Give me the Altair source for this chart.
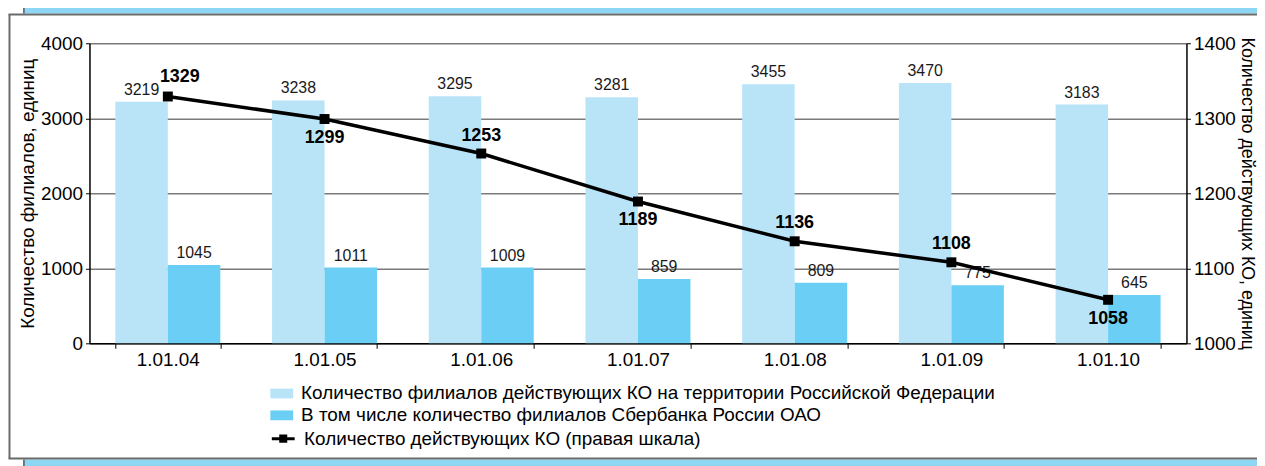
import altair as alt
import pandas as pd

dates = ["1.01.04", "1.01.05", "1.01.06", "1.01.07", "1.01.08", "1.01.09", "1.01.10"]
branches_total = [3219, 3238, 3295, 3281, 3455, 3470, 3183]
branches_sber = [1045, 1011, 1009, 859, 809, 775, 645]
credit_orgs = [1329, 1299, 1253, 1189, 1136, 1108, 1058]

series_total = "Количество филиалов действующих КО на территории Российской Федерации"
series_sber = "В том числе количество филиалов Сбербанка России ОАО"
series_ko = "Количество действующих КО (правая шкала)"
left_title = "Количество филиалов, единиц"
right_title = "Количество действующих КО, единиц"

left_ticks = [0, 1000, 2000, 3000, 4000]
right_ticks = [1000, 1100, 1200, 1300, 1400]

# label placement groups for the line values
labels_above = ["1.01.06", "1.01.08", "1.01.09"]
labels_below = ["1.01.05", "1.01.07", "1.01.10"]
labels_above_right = ["1.01.04"]

FONT = "Liberation Sans"
PLOT_W, PLOT_H = 1104, 302
PAD = {"left": 82, "top": 34, "right": 71, "bottom": 122}

bars_df = pd.DataFrame({
    "date": dates * 2,
    "series": [series_total] * len(dates) + [series_sber] * len(dates),
    "value": branches_total + branches_sber,
})
line_df = pd.DataFrame({"date": dates, "ko": credit_orgs, "series": [series_ko] * len(dates)})
one_row = pd.DataFrame({"k": [0]})

x_enc = alt.X(
    "date:N", sort=dates,
    scale=alt.Scale(paddingInner=0.33, paddingOuter=0.165),
    axis=alt.Axis(title=None, labelAngle=0, tickBand="extent", labelFontSize=19,
                  labelPadding=2, tickSize=5, domainColor="black", tickColor="black",
                  labelColor="black", domainWidth=1.5),
)

y_left = alt.Y(
    "value:Q", scale=alt.Scale(domain=[0, 4000]),
    axis=alt.Axis(values=left_ticks, format="d", title=left_title, grid=True,
                  gridColor="#7a7a7a", gridWidth=1.5, tickSize=4, labelFontSize=19,
                  labelPadding=3, titleFontSize=19, titleFontWeight="normal",
                  titlePadding=3, domainColor="black", tickColor="black",
                  labelColor="black", titleColor="black", domainWidth=1.5),
)

y_right = alt.Y(
    "ko:Q", scale=alt.Scale(domain=[1000, 1400]),
    axis=alt.Axis(orient="right", values=right_ticks, format="d", title=right_title,
                  grid=False, tickSize=4, labelFontSize=19, labelPadding=3,
                  titleFontSize=18, titleFontWeight="normal", titlePadding=2,
                  titleAngle=90, domainColor="black", tickColor="black",
                  labelColor="black", titleColor="black", domainWidth=1.5),
)

# decorative page frame: grey-bordered white box, blue bands above and below
FRAME = "#6a6a6a"
BAND = "#8DD7F5"
frame_left = alt.Chart(one_row).mark_rule(color=FRAME, strokeWidth=2).encode(
    x=alt.value(-80.5), y=alt.value(-29), y2=alt.value(418))
frame_top = alt.Chart(one_row).mark_rule(color=FRAME, strokeWidth=2).encode(
    x=alt.value(-81.5), x2=alt.value(1200), y=alt.value(-29))
frame_bottom = alt.Chart(one_row).mark_rule(color=FRAME, strokeWidth=2).encode(
    x=alt.value(-81.5), x2=alt.value(1200), y=alt.value(418))
band_top = alt.Chart(one_row).mark_rect(fill=BAND).encode(
    x=alt.value(-66), x2=alt.value(1200), y=alt.value(-45), y2=alt.value(-30))
band_bottom = alt.Chart(one_row).mark_rect(fill=BAND).encode(
    x=alt.value(-66), x2=alt.value(1200), y=alt.value(419), y2=alt.value(440))
band_top_edge = alt.Chart(one_row).mark_rule(color="#555555", strokeWidth=1.5).encode(
    x=alt.value(-66), y=alt.value(-45), y2=alt.value(-30))
band_bottom_edge = alt.Chart(one_row).mark_rule(color="#555555", strokeWidth=1.5).encode(
    x=alt.value(-66), y=alt.value(419), y2=alt.value(440))
frame = alt.layer(band_top, band_bottom, band_top_edge, band_bottom_edge,
                  frame_left, frame_top, frame_bottom)

bars = alt.Chart(bars_df).mark_bar().encode(
    x=x_enc,
    xOffset=alt.XOffset("series:N", sort=[series_total, series_sber], scale=alt.Scale(paddingInner=0, paddingOuter=0)),
    y=y_left,
    color=alt.Color(
        "series:N",
        scale=alt.Scale(domain=[series_total, series_sber], range=["#B9E4F8", "#6BCFF5"]),
        legend=alt.Legend(title=None, orient="none", legendX=182, legendY=341,
                          symbolType="M-1,-0.43H1V0.43H-1Z", symbolSize=529,
                          symbolStrokeWidth=0, labelFontSize=19, labelOffset=8,
                          rowPadding=0, padding=0, labelColor="black", labelLimit=900),
    ),
)
bar_labels = alt.Chart(bars_df).mark_text(fontSize=16, baseline="middle", dy=-12, color="#1a1a1a").encode(
    x=x_enc,
    xOffset=alt.XOffset("series:N", sort=[series_total, series_sber]),
    y=y_left,
    text="value:Q",
)
left = alt.layer(bars, bar_labels)

line = alt.Chart(line_df).mark_line(strokeWidth=3.5).encode(
    x=x_enc, y=y_right,
    stroke=alt.Stroke(
        "series:N",
        scale=alt.Scale(domain=[series_ko], range=["black"]),
        legend=alt.Legend(title=None, orient="none", legendX=182, legendY=385,
                          symbolType="M-1,0H1M-0.22,-0.36V0.36M0,-0.36V0.36M0.22,-0.36V0.36",
                          symbolSize=529, symbolStrokeWidth=3, labelFontSize=19,
                          labelOffset=8, padding=0, labelColor="black", labelLimit=900),
    ),
)
points = alt.Chart(line_df).mark_square(size=100, color="black", opacity=1).encode(x=x_enc, y=y_right)
lab_base = alt.Chart(line_df)
lab_above = lab_base.mark_text(fontSize=18, fontWeight="bold", dy=-18, color="black").encode(
    x=x_enc, y=y_right, text="ko:Q").transform_filter(alt.FieldOneOfPredicate(field="date", oneOf=labels_above))
lab_below = lab_base.mark_text(fontSize=18, fontWeight="bold", dy=19, color="black").encode(
    x=x_enc, y=y_right, text="ko:Q").transform_filter(alt.FieldOneOfPredicate(field="date", oneOf=labels_below))
lab_ar = lab_base.mark_text(fontSize=18, fontWeight="bold", dy=-20, dx=12, color="black").encode(
    x=x_enc, y=y_right, text="ko:Q").transform_filter(alt.FieldOneOfPredicate(field="date", oneOf=labels_above_right))
right = alt.layer(line, points, lab_above, lab_below, lab_ar)

chart = alt.layer(frame, left, right).resolve_scale(y="independent").properties(
    width=PLOT_W, height=PLOT_H,
    padding=PAD,
    autosize=alt.AutoSizeParams(type="none"),
    background="white",
).configure(font=FONT).configure_view(stroke=None)

chart.save("out.html", embed_options={"renderer": "svg", "actions": False})
